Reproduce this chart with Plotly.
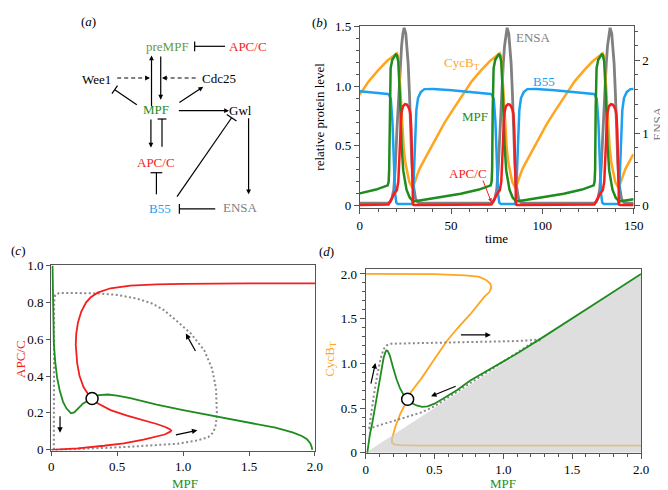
import math
import plotly.graph_objects as go

W, H = 668, 490
FONT = "'Liberation Serif', 'Times New Roman', Times, serif"

GREEN = "#1e8c1e"
RED = "#f41e1e"
ORANGE = "#ffa51f"
BLUE = "#1ca0f2"
GRAY = "#808080"
DOT = "#8a8a8a"
OLIVE = "#6a9a3a"
AX = "#555555"

# ---------------- panel (b) time courses ----------------
t_cyc = [0, 4.9, 9.9, 14.9, 20.3,
         21.1, 22.1, 23.1, 24.1, 25.1, 26.1, 27.1, 28.5, 29.8, 31.3, 32.8, 36.3, 41.8, 46.3, 51.3, 56.3, 61.3, 66.3, 71.3, 76.7,
         77.5, 78.5, 79.5, 80.5, 81.5, 82.5, 83.5, 84.9, 86.2, 87.7, 89.2, 92.7, 98.2, 102.7, 107.7, 112.7, 117.7, 122.7, 127.7, 133.1,
         133.9, 134.9, 135.9, 136.9, 137.9, 138.9, 139.9, 141.3, 142.6, 144.1, 145.6, 149.1, 150]
cycb = [0.93, 1.04, 1.13, 1.21, 1.275,
        1.24, 1.0, 0.7, 0.48, 0.35, 0.26, 0.2, 0.16, 0.18, 0.25, 0.31, 0.41, 0.57, 0.69, 0.81, 0.93, 1.04, 1.13, 1.21, 1.275,
        1.24, 1.0, 0.7, 0.48, 0.35, 0.26, 0.2, 0.16, 0.18, 0.25, 0.31, 0.41, 0.57, 0.69, 0.81, 0.93, 1.04, 1.13, 1.21, 1.275,
        1.24, 1.0, 0.7, 0.48, 0.35, 0.26, 0.2, 0.16, 0.18, 0.25, 0.31, 0.41, 0.43]

t_mpf = [0, 8.9, 15.3, 15.8, 16.1, 16.4, 16.9, 17.8, 19.7, 20.3, 21.1, 22.0, 22.9, 23.8, 25.6, 27.4, 29.3, 35.3, 45.3, 55.3, 65.3,
         71.7, 72.2, 72.5, 72.8, 73.3, 74.2, 76.1, 76.7, 77.5, 78.4, 79.3, 80.2, 82.0, 83.8, 85.7, 91.7, 101.7, 111.7, 121.7,
         128.1, 128.6, 128.9, 129.2, 129.7, 130.6, 132.5, 133.1, 133.9, 134.8, 135.7, 136.6, 138.4, 140.2, 142.1, 148.1, 150]
mpf = [0.103, 0.135, 0.17, 0.2, 0.3, 0.8, 1.15, 1.22, 1.265, 1.26, 1.205, 0.91, 0.51, 0.295, 0.134, 0.067, 0.035, 0.05, 0.075, 0.10, 0.135,
       0.17, 0.2, 0.3, 0.8, 1.15, 1.22, 1.265, 1.26, 1.205, 0.91, 0.51, 0.295, 0.134, 0.067, 0.035, 0.05, 0.075, 0.10, 0.135,
       0.17, 0.2, 0.3, 0.8, 1.15, 1.22, 1.265, 1.26, 1.205, 0.91, 0.51, 0.295, 0.134, 0.067, 0.035, 0.05, 0.054]

t_apc = [0, 14.3, 15.7, 16.8, 17.5, 18.5, 19.3, 20.3, 21.1, 21.6, 22.0, 22.5, 22.9, 23.6, 24.8, 25.8, 26.5, 27.3, 27.8, 28.2, 28.5, 28.8, 29.2, 29.8,
         70.7, 72.1, 73.2, 73.9, 74.9, 75.7, 76.7, 77.5, 78.0, 78.4, 78.9, 79.3, 80.0, 81.2, 82.2, 82.9, 83.7, 84.2, 84.6, 84.9, 85.2, 85.6, 86.2,
         127.1, 128.5, 129.6, 130.3, 131.3, 132.1, 133.1, 133.9, 134.4, 134.8, 135.3, 135.7, 136.4, 137.6, 138.6, 139.3, 140.1, 140.6, 141.0, 141.3, 141.6, 142.0, 142.6, 150]
apc = [0.005, 0.005, 0.01, 0.04, 0.067, 0.09, 0.11, 0.13, 0.2, 0.33, 0.51, 0.7, 0.78, 0.83, 0.849, 0.845, 0.83, 0.8, 0.76, 0.64, 0.4, 0.15, 0.01, 0.005,
       0.005, 0.01, 0.04, 0.067, 0.09, 0.11, 0.13, 0.2, 0.33, 0.51, 0.7, 0.78, 0.83, 0.849, 0.845, 0.83, 0.8, 0.76, 0.64, 0.4, 0.15, 0.01, 0.005,
       0.005, 0.01, 0.04, 0.067, 0.09, 0.11, 0.13, 0.2, 0.33, 0.51, 0.7, 0.78, 0.83, 0.849, 0.845, 0.83, 0.8, 0.76, 0.64, 0.4, 0.15, 0.01, 0.005, 0.005]

t_b55 = [0, 3.9, 10.9, 15.3, 16.1, 16.6, 17.0, 17.9, 18.6, 19.3, 20.0, 20.8, 28.7, 29.2, 29.7, 30.3, 31.0, 31.9, 33.4, 35.4, 40.3, 50.3, 60.3, 67.3,
         71.7, 72.5, 73.0, 73.4, 74.3, 75.0, 75.7, 76.4, 77.2, 85.1, 85.6, 86.1, 86.7, 87.4, 88.3, 89.8, 91.8, 96.7, 106.7, 116.7, 123.7,
         128.1, 128.9, 129.4, 129.8, 130.7, 131.4, 132.1, 132.8, 133.6, 141.5, 142.0, 142.5, 143.1, 143.8, 144.7, 146.2, 148.2, 150]
b55 = [0.958, 0.953, 0.943, 0.935, 0.925, 0.91, 0.89, 0.70, 0.38, 0.11, 0.025, 0.015, 0.015, 0.08, 0.29, 0.56, 0.80, 0.90, 0.95, 0.975, 0.977, 0.966, 0.953, 0.943,
       0.935, 0.925, 0.91, 0.89, 0.70, 0.38, 0.11, 0.025, 0.015, 0.015, 0.08, 0.29, 0.56, 0.80, 0.90, 0.95, 0.975, 0.977, 0.966, 0.953, 0.943,
       0.935, 0.925, 0.91, 0.89, 0.70, 0.38, 0.11, 0.025, 0.015, 0.015, 0.08, 0.29, 0.56, 0.80, 0.90, 0.95, 0.975, 0.977]

t_ensa = [0, 15.3, 16.6, 17.6, 18.6, 19.5, 20.4, 21.3, 22.2, 22.9, 23.6, 24.3, 25.2, 25.8, 26.5, 27.2, 27.8, 28.5, 29.2, 29.9, 30.6, 31.9, 34.3,
          71.7, 73.0, 74.0, 75.0, 75.9, 76.8, 77.7, 78.6, 79.3, 80.0, 80.7, 81.6, 82.2, 82.9, 83.6, 84.2, 84.9, 85.6, 86.3, 87.0, 88.3, 90.7,
          128.1, 129.4, 130.4, 131.4, 132.3, 133.2, 134.1, 135.0, 135.7, 136.4, 137.1, 138.0, 138.6, 139.3, 140.0, 140.6, 141.3, 142.0, 142.7, 143.4, 144.7, 147.1, 150]
ensa = [0.035, 0.035, 0.05, 0.1, 0.22, 0.55, 1.07, 1.55, 1.96, 2.2, 2.37, 2.45, 2.37, 2.2, 1.96, 1.55, 1.07, 0.6, 0.31, 0.16, 0.09, 0.045, 0.035,
        0.035, 0.05, 0.1, 0.22, 0.55, 1.07, 1.55, 1.96, 2.2, 2.37, 2.45, 2.37, 2.2, 1.96, 1.55, 1.07, 0.6, 0.31, 0.16, 0.09, 0.045, 0.035,
        0.035, 0.05, 0.1, 0.22, 0.55, 1.07, 1.55, 1.96, 2.2, 2.37, 2.45, 2.37, 2.2, 1.96, 1.55, 1.07, 0.6, 0.31, 0.16, 0.09, 0.045, 0.035, 0.035]

# ---------------- panel (c) phase plane MPF vs APC/C ----------------
c_red_x = [0, 0.2, 0.4, 0.55, 0.7, 0.8, 0.86, 0.9, 0.91, 0.9, 0.86, 0.8, 0.7, 0.575, 0.45, 0.352, 0.31, 0.278, 0.245, 0.215, 0.197, 0.188, 0.186, 0.19,
           0.203, 0.228, 0.265, 0.3, 0.352, 0.45, 0.6, 0.8, 1.0, 1.5, 2.0]
c_red_y = [0, 0.008, 0.022, 0.035, 0.055, 0.07, 0.083, 0.097, 0.104, 0.112, 0.125, 0.14, 0.16, 0.185, 0.215, 0.252, 0.278, 0.304, 0.34, 0.4, 0.47, 0.53, 0.57, 0.63,
           0.69, 0.75, 0.8, 0.827, 0.852, 0.876, 0.89, 0.897, 0.9, 0.902, 0.903]
c_green_x = [0.01, 0.012, 0.015, 0.02, 0.03, 0.045, 0.065, 0.09, 0.115, 0.15, 0.175, 0.2, 0.24, 0.31, 0.36, 0.43, 0.5, 0.6, 0.8, 1.0,
             1.25, 1.5, 1.7, 1.83, 1.9, 1.94, 1.965, 1.975, 1.98]
c_green_y = [1.0, 0.85, 0.7, 0.58, 0.48, 0.39, 0.32, 0.26, 0.225, 0.198, 0.203, 0.22, 0.25, 0.28, 0.297, 0.3, 0.294, 0.28, 0.245, 0.215,
             0.182, 0.148, 0.12, 0.095, 0.075, 0.058, 0.035, 0.015, 0.0]
c_traj_x = [0.02, 0.02, 0.022, 0.03, 0.06, 0.2, 0.35, 0.5, 0.65, 0.76, 0.85, 0.95, 1.06, 1.16, 1.22, 1.25, 1.256, 1.25, 1.23, 1.19, 1.1,
            0.96, 0.8, 0.6, 0.4, 0.2, 0.05, 0.02]
c_traj_y = [0.0, 0.5, 0.8, 0.84, 0.85, 0.85, 0.848, 0.84, 0.82, 0.795, 0.76, 0.7, 0.63, 0.54, 0.44, 0.33, 0.2, 0.14, 0.095, 0.068, 0.05,
            0.033, 0.025, 0.017, 0.01, 0.005, 0.002, 0.0]
c_fixed = ([0.31], [0.278])

# ---------------- panel (d) phase plane MPF vs CycB_T ----------------
d_shade_x = [0, 2, 2, 0]
d_shade_y = [0, 2, 0, 0]
d_orange_x = [0, 0.3, 0.5, 0.72, 0.82, 0.878, 0.905, 0.913, 0.9, 0.86, 0.76, 0.665, 0.59, 0.5, 0.404, 0.332, 0.305, 0.25, 0.215, 0.198,
              0.19, 0.193, 0.21, 0.25, 0.4, 1.0, 2.0]
d_orange_y = [2.0, 2.0, 1.998, 1.985, 1.97, 1.93, 1.89, 1.85, 1.8, 1.74, 1.55, 1.39, 1.25, 1.05, 0.83, 0.686, 0.6, 0.43, 0.29, 0.21,
              0.15, 0.11, 0.093, 0.087, 0.082, 0.08, 0.08]
d_green_x = [0.012, 0.03, 0.05, 0.07, 0.095, 0.115, 0.13, 0.142, 0.15, 0.16, 0.175, 0.2, 0.225, 0.25, 0.275, 0.305, 0.33, 0.37, 0.41,
             0.45, 0.5, 0.57, 0.665, 0.76, 0.86, 0.95, 1.1, 1.3, 1.5, 1.75, 2.0]
d_green_y = [0.0, 0.2, 0.35, 0.53, 0.76, 0.95, 1.06, 1.12, 1.145, 1.14, 1.09, 0.95, 0.82, 0.72, 0.65, 0.595, 0.56, 0.53, 0.515,
             0.52, 0.55, 0.614, 0.704, 0.81, 0.9, 0.975, 1.11, 1.305, 1.5, 1.75, 2.0]
d_traj_x = [0.025, 0.04, 0.06, 0.085, 0.11, 0.13, 0.15, 0.18, 0.3, 0.6, 0.9, 1.1, 1.25, 1.28, 1.2, 1.0, 0.8, 0.6, 0.5, 0.4, 0.3, 0.2, 0.1, 0.035, 0.025]
d_traj_y = [0.27, 0.45, 0.65, 0.88, 1.06, 1.16, 1.2, 1.22, 1.225, 1.235, 1.245, 1.25, 1.265, 1.27, 1.22, 1.02, 0.82, 0.625, 0.52, 0.45, 0.4, 0.355, 0.31, 0.272, 0.27]
d_fixed = ([0.305], [0.6])

# tick labels
b_xticks = [0, 50, 100, 150]
b_xlabels = ["0", "50", "100", "150"]
b_yticks = [0, 0.5, 1.0, 1.5]
b_ylabels = ["0", "0.5", "1.0", "1.5"]
b_y2ticks = [0, 1, 2]
b_y2labels = ["0", "1", "2"]
cd_xticks = [0, 0.5, 1.0, 1.5, 2.0]
cd_xlabels = ["0", "0.5", "1.0", "1.5", "2.0"]
c_yticks = [0, 0.2, 0.4, 0.6, 0.8, 1.0]
c_ylabels = ["0", "0.2", "0.4", "0.6", "0.8", "1.0"]
d_yticks = [0, 0.5, 1.0, 1.5, 2.0]
d_ylabels = ["0", "0.5", "1.0", "1.5", "2.0"]


def PX(x):
    return x / W


def PY(y):
    return 1 - y / H


fig = go.Figure()

# (b) ENSA on base axis (right side), others on overlay (left side)
fig.add_trace(go.Scatter(x=t_ensa, y=ensa, xaxis="x", yaxis="y", mode="lines",
                         line=dict(color=GRAY, width=2.8), showlegend=False))
fig.add_trace(go.Scatter(x=t_cyc, y=cycb, xaxis="x", yaxis="y2", mode="lines",
                         line=dict(color=ORANGE, width=2.5), showlegend=False))
fig.add_trace(go.Scatter(x=t_b55, y=b55, xaxis="x", yaxis="y2", mode="lines",
                         line=dict(color=BLUE, width=2.5), showlegend=False))
fig.add_trace(go.Scatter(x=t_mpf, y=mpf, xaxis="x", yaxis="y2", mode="lines",
                         line=dict(color=GREEN, width=2.5), showlegend=False))
fig.add_trace(go.Scatter(x=t_apc, y=apc, xaxis="x", yaxis="y2", mode="lines",
                         line=dict(color=RED, width=2.5), showlegend=False))

# (c)
fig.add_trace(go.Scatter(x=c_traj_x, y=c_traj_y, xaxis="x2", yaxis="y3", mode="lines",
                         line=dict(color=DOT, width=2, dash="2px,2.5px"), showlegend=False))
fig.add_trace(go.Scatter(x=c_red_x, y=c_red_y, xaxis="x2", yaxis="y3", mode="lines",
                         line=dict(color=RED, width=1.8), showlegend=False))
fig.add_trace(go.Scatter(x=c_green_x, y=c_green_y, xaxis="x2", yaxis="y3", mode="lines",
                         line=dict(color=GREEN, width=1.8), showlegend=False))
fig.add_trace(go.Scatter(x=c_fixed[0], y=c_fixed[1], xaxis="x2", yaxis="y3", mode="markers",
                         marker=dict(size=12, color="white", line=dict(color="black", width=1.5)),
                         showlegend=False))

# (d)
fig.add_trace(go.Scatter(x=d_orange_x, y=d_orange_y, xaxis="x3", yaxis="y4", mode="lines",
                         line=dict(color=ORANGE, width=1.8), showlegend=False))
fig.add_trace(go.Scatter(x=d_shade_x, y=d_shade_y, xaxis="x3", yaxis="y4", mode="lines",
                         fill="toself", fillcolor="rgba(205,205,205,0.65)",
                         line=dict(width=0), showlegend=False))
fig.add_trace(go.Scatter(x=d_traj_x, y=d_traj_y, xaxis="x3", yaxis="y4", mode="lines",
                         line=dict(color=DOT, width=2, dash="2px,2.5px"), showlegend=False))
fig.add_trace(go.Scatter(x=d_green_x, y=d_green_y, xaxis="x3", yaxis="y4", mode="lines",
                         line=dict(color=GREEN, width=1.8), showlegend=False))
fig.add_trace(go.Scatter(x=d_fixed[0], y=d_fixed[1], xaxis="x3", yaxis="y4", mode="markers",
                         marker=dict(size=12, color="white", line=dict(color="black", width=1.5)),
                         showlegend=False))

tickfont = dict(family=FONT, size=13, color="black")
axcommon = dict(showline=True, linecolor=AX, linewidth=1, ticks="outside", tickcolor=AX,
                showgrid=False, zeroline=False, tickfont=tickfont, tickmode="array")

fig.update_layout(
    width=W, height=H, margin=dict(l=0, r=0, t=0, b=0),
    paper_bgcolor="white", plot_bgcolor="rgba(0,0,0,0)",
    font=dict(family=FONT, size=12, color="black"),
    xaxis=dict(domain=[PX(355.7), PX(635)], anchor="y", range=[0, 150], mirror=True,
               tickvals=b_xticks, ticktext=b_xlabels, ticklen=5,
               minor=dict(dtick=10, tick0=0, ticklen=3, ticks="outside", tickcolor=AX, showgrid=False),
               **axcommon),
    yaxis=dict(domain=[PY(199.2), PY(11.7)], anchor="x", side="right", range=[-0.033, 2.47],
               tickvals=b_y2ticks, ticktext=b_y2labels, ticklen=5,
               minor=dict(dtick=0.2, tick0=0, ticklen=3, ticks="outside", tickcolor=AX, showgrid=False),
               **axcommon),
    yaxis2=dict(overlaying="y", anchor="x", side="left", range=[-0.02, 1.5],
                tickvals=b_yticks, ticktext=b_ylabels, ticklen=5,
                minor=dict(dtick=0.1, tick0=0, ticklen=3, ticks="outside", tickcolor=AX, showgrid=False),
                **axcommon),
    xaxis2=dict(domain=[PX(41), PX(310)], anchor="y3", range=[0, 2], mirror=True,
                tickvals=cd_xticks, ticktext=cd_xlabels, ticklen=4, **axcommon),
    yaxis3=dict(domain=[PY(449.3), PY(258.3)], anchor="x2", range=[-0.004, 1.0], mirror=True,
                tickvals=c_yticks, ticktext=c_ylabels, ticklen=4, **axcommon),
    xaxis3=dict(domain=[PX(361.7), PX(642.5)], anchor="y4", range=[0, 2], mirror=True,
                tickvals=cd_xticks, ticktext=cd_xlabels, ticklen=5,
                minor=dict(dtick=0.1, tick0=0, ticklen=3, ticks="outside", tickcolor=AX, showgrid=False),
                **axcommon),
    yaxis4=dict(domain=[PY(451.7), PY(261.6)], anchor="x3", range=[0, 2.06], mirror=True,
                tickvals=d_yticks, ticktext=d_ylabels, ticklen=5,
                minor=dict(dtick=0.1, tick0=0, ticklen=3, ticks="outside", tickcolor=AX, showgrid=False),
                **axcommon),
)

ann = []
shapes = []


def text(x, y, s, color="black", size=13, angle=0, xanchor="center"):
    ann.append(dict(x=PX(x), y=PY(y), xref="paper", yref="paper", text=s, showarrow=False,
                    font=dict(family=FONT, size=size, color=color), textangle=angle,
                    xanchor=xanchor, yanchor="middle"))


def arrow(x0, y0, x1, y1, color="black", width=1.2, size=0.8):
    ann.append(dict(x=PX(x1), y=PY(y1), xref="paper", yref="paper", ax=x0 - x1, ay=y0 - y1,
                    axref="pixel", ayref="pixel", text="", showarrow=True, arrowhead=2,
                    arrowsize=size, arrowwidth=width, arrowcolor=color, standoff=0, startstandoff=0))


def seg(x0, y0, x1, y1, color="black", width=1.2, dash="solid"):
    shapes.append(dict(type="line", xref="paper", yref="paper", x0=PX(x0), y0=PY(y0),
                       x1=PX(x1), y1=PY(y1), line=dict(color=color, width=width, dash=dash)))


def tee(x0, y0, x1, y1, half=5):
    dx, dy = x1 - x0, y1 - y0
    L = math.hypot(dx, dy)
    ux, uy = dx / L, dy / L
    nx, ny = -uy, ux
    seg(x0, y0, x1, y1)
    seg(x1 + nx * half, y1 + ny * half, x1 - nx * half, y1 - ny * half)


def dashed_arrow(x0, y0, x1, y1):
    dx, dy = x1 - x0, y1 - y0
    L = math.hypot(dx, dy)
    ux, uy = dx / L, dy / L
    seg(x0, y0, x1 - ux * 5, y1 - uy * 5, dash="4px,3px")
    arrow(x1 - ux * 6, y1 - uy * 6, x1, y1)


# ---------------- panel (a) diagram ----------------
text(79, 7, "(<i>a</i>)")
text(160, 33, "preMPF", OLIVE)
text(242, 33, "APC/C", RED)
text(87, 67, "Wee1")
text(212, 66, "Cdc25")
text(148, 97, "MPF", GREEN)
text(234, 99, "Gwl")
text(148, 152, "APC/C", RED)
text(152, 200, "B55", BLUE)
text(234, 199, "ENSA", GRAY)

arrow(143.3, 94, 143.3, 41.7)
arrow(152.7, 42.7, 152.7, 87.3)
arrow(170.7, 90.7, 196, 74)
arrow(170.7, 98.7, 222.3, 98.7)
arrow(142.7, 107.3, 142.7, 136.7)
arrow(242.3, 107.3, 242.3, 185)
dashed_arrow(108.3, 65, 141.7, 65)
dashed_arrow(188.3, 65, 154, 65)
tee(218.3, 32.3, 187.3, 32.3)
tee(128.3, 92.7, 105.8, 77)
tee(154, 136, 154, 107.3, half=4.5)
tee(148.3, 185, 148.3, 162.7, half=6)
tee(169.3, 187.3, 225, 106, half=6)
tee(208.3, 200, 171.7, 200)

# ---------------- panel labels & axis titles ----------------
text(315, 7.5, "(<i>b</i>)")
text(7, 243, "(<i>c</i>)")
text(322, 244, "(<i>d</i>)")

text(495, 231, "time")
text(315, 105, "relative protein level", angle=-90)
text(659, 112, "ENSA", GRAY, angle=-90)
text(513, 23.3, "ENSA", GRAY, xanchor="left")
text(439.3, 50, "CycB<sub>T</sub>", ORANGE, xanchor="left")
text(530, 68.3, "B55", BLUE, xanchor="left")
text(458.3, 105, "MPF", GREEN, xanchor="left")
text(445, 163.3, "APC/C", RED, xanchor="left")
arrow(481, 170, 490, 193.3, color=RED, width=1)

text(9, 355, "APC/C", RED, angle=-90)
text(177, 483.5, "MPF", GREEN)
text(325, 355, "CycB<sub>T</sub>", ORANGE, angle=-90)
text(502, 483.5, "MPF", GREEN)


# arrows inside (c) and (d) in data coordinates
def darrow(xr, yr, x0, y0, x1, y1):
    ann.append(dict(x=x1, y=y1, xref=xr, yref=yr, ax=x0, ay=y0, axref=xr, ayref=yr, text="",
                    showarrow=True, arrowhead=2, arrowsize=0.9, arrowwidth=1.2, arrowcolor="black",
                    standoff=0, startstandoff=0))


darrow("x2", "y3", 0.067, 0.19, 0.067, 0.093)
darrow("x2", "y3", 0.934, 0.079, 1.108, 0.106)
darrow("x2", "y3", 1.1, 0.528, 1.021, 0.63)
darrow("x3", "y4", 0.036, 0.758, 0.071, 1.004)
darrow("x3", "y4", 0.681, 1.318, 0.909, 1.318)
darrow("x3", "y4", 0.665, 0.751, 0.475, 0.632)

fig.update_layout(annotations=ann, shapes=shapes)
fig.write_html("out.html")
